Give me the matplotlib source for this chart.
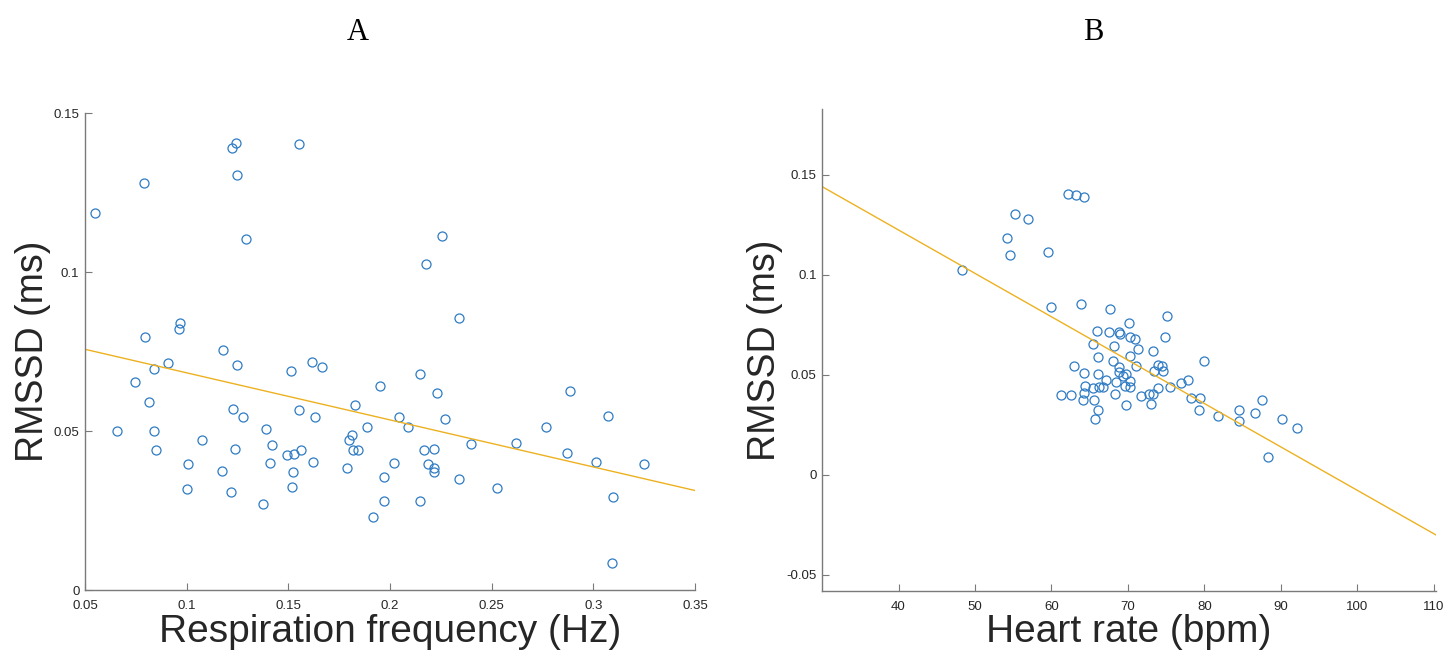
import numpy as np
import matplotlib
matplotlib.use('Agg')
import matplotlib.pyplot as plt

plt.rcParams['font.family'] = 'Liberation Sans'

#   panel A: respiration frequency (Hz) vs RMSSD
resp_freq = [0.0549, 0.0790, 0.1223, 0.1244, 0.1246, 0.1554, 0.1291, 0.0967, 0.0964, 0.0797,
             0.2256, 0.2176, 0.2339, 0.1178, 0.0907, 0.0841, 0.1246, 0.0744, 0.0816, 0.1226,
             0.1275, 0.0657, 0.0841, 0.0851, 0.1074, 0.1008, 0.1003, 0.1175, 0.1236, 0.1219,
             0.1374, 0.1391, 0.1418, 0.1408, 0.1514, 0.1555, 0.1616, 0.1664, 0.1629, 0.1493,
             0.1529, 0.1562, 0.1523, 0.1516, 0.1624, 0.1788, 0.1798, 0.1813, 0.1819, 0.1844,
             0.1826, 0.1886, 0.1916, 0.1952, 0.2150, 0.2230, 0.2047, 0.2089, 0.2270, 0.2168,
             0.2217, 0.2019, 0.2188, 0.2219, 0.2217, 0.1970, 0.2339, 0.1971, 0.2147, 0.2401,
             0.2529, 0.2620, 0.2768, 0.2884, 0.2871, 0.3074, 0.3015, 0.3248, 0.3097, 0.3092]
rmssd_a = [0.1186, 0.1279, 0.1390, 0.1406, 0.1306, 0.1401, 0.1103, 0.0841, 0.0820, 0.0795,
           0.1114, 0.1025, 0.0854, 0.0754, 0.0714, 0.0696, 0.0707, 0.0654, 0.0590, 0.0569,
           0.0543, 0.0499, 0.0499, 0.0440, 0.0471, 0.0396, 0.0318, 0.0374, 0.0443, 0.0309,
           0.0270, 0.0505, 0.0457, 0.0400, 0.0688, 0.0565, 0.0718, 0.0701, 0.0543, 0.0424,
           0.0428, 0.0441, 0.0371, 0.0323, 0.0404, 0.0383, 0.0471, 0.0489, 0.0441, 0.0439,
           0.0583, 0.0513, 0.0230, 0.0641, 0.0678, 0.0619, 0.0545, 0.0512, 0.0538, 0.0440,
           0.0442, 0.0400, 0.0397, 0.0384, 0.0371, 0.0354, 0.0349, 0.0280, 0.0280, 0.0459,
           0.0322, 0.0462, 0.0512, 0.0627, 0.0430, 0.0547, 0.0401, 0.0395, 0.0291, 0.0086]
fit_a_x = [0.05, 0.35]
fit_a_y = [0.0757, 0.0313]

#   panel B: heart rate (bpm) vs RMSSD
heart_rate = [62.2, 63.2, 64.2, 55.2, 56.9, 54.2, 54.6, 59.6, 48.3, 59.9,
              63.9, 67.7, 66.0, 65.5, 66.1, 63.0, 64.3, 66.1, 64.4, 65.5,
              66.2, 66.7, 61.3, 62.6, 64.2, 64.1, 65.6, 66.1, 65.7, 70.1,
              67.5, 68.8, 69.0, 70.3, 68.2, 70.3, 68.1, 68.8, 68.8, 69.4,
              69.8, 67.1, 68.5, 69.6, 70.3, 68.3, 69.7, 75.1, 70.9, 74.9,
              71.3, 73.3, 74.0, 74.4, 71.1, 73.4, 74.6, 80.0, 70.3, 75.5,
              76.9, 77.9, 74.0, 71.7, 72.7, 73.3, 73.0, 78.2, 79.4, 79.3,
              81.8, 84.5, 84.5, 87.5, 86.6, 90.2, 92.1, 88.3]
rmssd_b = [0.1405, 0.1399, 0.1390, 0.1304, 0.1279, 0.1187, 0.1102, 0.1115, 0.1025, 0.0842,
           0.0857, 0.0829, 0.0720, 0.0654, 0.0589, 0.0547, 0.0509, 0.0504, 0.0447, 0.0435,
           0.0440, 0.0439, 0.0399, 0.0399, 0.0410, 0.0375, 0.0374, 0.0325, 0.0282, 0.0759,
           0.0714, 0.0717, 0.0704, 0.0692, 0.0645, 0.0595, 0.0572, 0.0540, 0.0515, 0.0495,
           0.0507, 0.0475, 0.0464, 0.0445, 0.0442, 0.0405, 0.0352, 0.0797, 0.0679, 0.0690,
           0.0629, 0.0620, 0.0550, 0.0545, 0.0545, 0.0519, 0.0519, 0.0570, 0.0472, 0.0442,
           0.0459, 0.0474, 0.0437, 0.0397, 0.0404, 0.0407, 0.0357, 0.0387, 0.0387, 0.0325,
           0.0297, 0.0324, 0.0270, 0.0374, 0.0312, 0.0282, 0.0234, 0.0092]
fit_b_x = [30, 110.3]
fit_b_y = [0.1442, -0.0300]

blue = '#2f7bc4'
yellow = '#EDB120'
axcol = '#7a7a7a'
txtcol = '#262626'


def style_axes(ax):
    for s in ['top', 'right']:
        ax.spines[s].set_visible(False)
    for s in ['left', 'bottom']:
        ax.spines[s].set_color(axcol)
        ax.spines[s].set_linewidth(1.0)
    ax.tick_params(direction='in', length=5, width=0.8, color=axcol,
                   labelsize=9.5, labelcolor=txtcol)
    ax.tick_params(axis='x', pad=7)
    ax.tick_params(axis='y', pad=4)


def place_labels(ax, xl, yl, xl_y, yl_x):
    ax.set_xlabel(xl, fontsize=28, color=txtcol, va='baseline')
    ax.set_ylabel(yl, fontsize=27, color=txtcol, va='center')
    ax.xaxis.set_label_coords(0.5, xl_y)
    ax.yaxis.set_label_coords(yl_x, 0.5)


fig = plt.figure(figsize=(14.45, 6.59), dpi=100)

axA = fig.add_axes([0.0588, 0.1047, 0.4221, 0.7238])
axA.plot(resp_freq, rmssd_a, 'o', mfc='none', mec=blue, ms=6.5, mew=0.9)
axA.plot(fit_a_x, fit_a_y, '-', color=yellow, lw=1.0)
axA.set_xlim(0.05, 0.35)
axA.set_ylim(0, 0.15)
axA.set_xticks([0.05, 0.1, 0.15, 0.2, 0.25, 0.3, 0.35])
axA.set_xticklabels(['0.05', '0.1', '0.15', '0.2', '0.25', '0.3', '0.35'])
axA.set_yticks([0, 0.05, 0.1, 0.15])
axA.set_yticklabels(['0', '0.05', '0.1', '0.15'])
style_axes(axA)
place_labels(axA, 'Respiration frequency (Hz)', 'RMSSD (ms)', -0.109, -0.0855)

axB = fig.add_axes([0.5689, 0.1032, 0.4249, 0.7314])
axB.plot(heart_rate, rmssd_b, 'o', mfc='none', mec=blue, ms=6.5, mew=0.9)
axB.plot(fit_b_x, fit_b_y, '-', color=yellow, lw=1.0)
axB.set_xlim(30, 110.3)
axB.set_ylim(-0.058, 0.183)
axB.set_xticks([40, 50, 60, 70, 80, 90, 100, 110])
axB.set_yticks([-0.05, 0, 0.05, 0.1, 0.15])
axB.set_yticklabels(['-0.05', '0', '0.05', '0.1', '0.15'])
style_axes(axB)
place_labels(axB, 'Heart rate (bpm)', 'RMSSD (ms)', -0.106, -0.093)

fig.text(358 / 1445, 1 - 32 / 659, 'A', ha='center', va='center',
         fontsize=22, family='Liberation Serif', color='black')
fig.text(1093 / 1445, 1 - 32 / 659, 'B', ha='center', va='center',
         fontsize=22, family='Liberation Serif', color='black')

fig.savefig('out.png', dpi=100)
